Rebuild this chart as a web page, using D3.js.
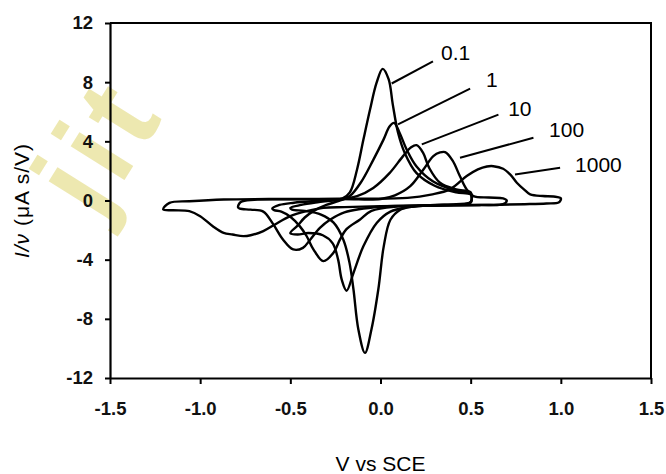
<!DOCTYPE html>
<html>
<head>
<meta charset="utf-8">
<script src="https://cdn.jsdelivr.net/npm/d3@7"></script>
<style>
  body { margin: 0; background: #fff; }
  svg { display: block; font-family: "Liberation Sans", Arial, sans-serif; }
</style>
</head>
<body>
<svg width="666" height="474"></svg>
<script>
// scan rates (V/s), one voltammogram each
const scanRates = ["0.1", "1", "10", "100", "1000"];

// [E (V vs SCE), I/v (uA s/V)], forward sweep then return sweep
const cv01 = [
  [-0.50,-0.50],[-0.44,-0.30],[-0.35,-0.12],[-0.26,0.02],[-0.21,0.15],[-0.17,0.55],[-0.13,2.1],
  [-0.095,4.1],[-0.058,6.15],[-0.022,7.95],[0.012,8.9],[0.045,8.2],[0.068,6.5],[0.097,4.6],
  [0.135,3.2],[0.2,1.85],[0.3,1.0],[0.42,0.55],[0.5,0.4],
  [0.5,-0.15],[0.42,-0.28],[0.3,-0.32],[0.17,-0.42],[0.11,-0.62],[0.055,-1.3],[0.018,-3.1],
  [-0.012,-6.0],[-0.05,-8.7],[-0.086,-10.3],[-0.123,-8.7],[-0.15,-6.0],[-0.172,-4.2],
  [-0.206,-2.65],[-0.26,-1.5],[-0.33,-0.95],[-0.42,-0.7],[-0.49,-0.62]
];
const cv1 = [
  [-0.50,-2.2],[-0.46,-1.7],[-0.42,-1.15],[-0.37,-0.7],[-0.3,-0.3],[-0.23,-0.02],[-0.17,0.3],
  [-0.11,1.2],[-0.04,2.75],[0.016,4.1],[0.05,5.0],[0.075,5.25],[0.105,4.6],[0.145,3.45],
  [0.2,2.3],[0.29,1.3],[0.42,0.65],[0.5,0.45],
  [0.5,-0.1],[0.42,-0.25],[0.3,-0.3],[0.15,-0.45],[0.055,-0.75],[-0.02,-1.5],[-0.095,-3.1],
  [-0.15,-4.9],[-0.188,-6.1],[-0.215,-5.35],[-0.235,-4.0],[-0.265,-2.9],[-0.32,-2.35],
  [-0.4,-2.2],[-0.46,-2.3]
];
const cv10 = [
  [-0.60,-0.55],[-0.56,-0.3],[-0.48,-0.15],[-0.38,-0.05],[-0.25,0.03],[-0.13,0.3],[-0.04,0.85],
  [0.05,1.85],[0.125,3.0],[0.17,3.6],[0.2,3.74],[0.235,3.25],[0.27,2.2],[0.33,1.2],[0.42,0.75],
  [0.5,0.55],
  [0.5,-0.1],[0.42,-0.27],[0.3,-0.32],[0.1,-0.4],[-0.05,-0.7],[-0.115,-1.3],[-0.19,-1.95],
  [-0.225,-2.65],[-0.262,-3.55],[-0.317,-4.1],[-0.372,-3.3],[-0.41,-2.4],[-0.447,-1.75],
  [-0.5,-1.1],[-0.55,-0.75],[-0.59,-0.65]
];
const cv100 = [
  [-0.79,-0.45],[-0.775,-0.1],[-0.7,0.05],[-0.5,0.08],[-0.2,0.1],[0.0,0.1],[0.08,0.35],
  [0.165,0.97],[0.238,2.1],[0.293,3.0],[0.33,3.25],[0.358,3.27],[0.4,2.7],[0.44,1.65],
  [0.478,0.75],[0.515,0.3],[0.6,0.2],[0.68,0.15],[0.70,0.0],
  [0.68,-0.25],[0.55,-0.3],[0.3,-0.35],[0.0,-0.42],[-0.2,-0.8],[-0.28,-1.3],[-0.336,-1.85],
  [-0.39,-2.65],[-0.43,-3.2],[-0.484,-3.31],[-0.54,-2.65],[-0.595,-1.6],[-0.65,-0.75],
  [-0.72,-0.62],[-0.78,-0.55]
];
const cv1000 = [
  [-1.205,-0.6],[-1.17,-0.16],[-1.06,-0.05],[-0.87,0.07],[-0.5,0.1],[-0.1,0.12],[0.15,0.18],
  [0.28,0.4],[0.385,0.75],[0.478,1.65],[0.54,2.1],[0.59,2.3],[0.626,2.32],[0.68,2.15],
  [0.72,1.75],[0.756,1.2],[0.8,0.7],[0.83,0.42],[0.9,0.3],[0.96,0.27],[1.0,0.15],
  [0.99,-0.12],[0.92,-0.2],[0.8,-0.25],[0.6,-0.3],[0.3,-0.33],[0.0,-0.38],[-0.2,-0.45],
  [-0.317,-0.5],[-0.41,-0.72],[-0.5,-1.06],[-0.585,-1.62],[-0.65,-2.07],[-0.72,-2.35],
  [-0.761,-2.41],[-0.82,-2.3],[-0.87,-2.19],[-0.93,-1.74],[-1.0,-1.06],[-1.06,-0.72],[-1.15,-0.66]
];
const curves = [cv01, cv1, cv10, cv100, cv1000];

const xTicks = [-1.5, -1.0, -0.5, 0.0, 0.5, 1.0, 1.5];
const yTicks = [12, 8, 4, 0, -4, -8, -12];

// leader lines for the rate labels: curve end -> label end, in data units
const leaderFrom = [[0.062,7.91],[0.097,5.14],[0.229,3.79],[0.441,2.89],[0.746,1.76]];
const leaderTo   = [[0.291,9.40],[0.497,7.57],[0.654,5.81],[0.848,4.24],[0.996,2.21]];
const labelAt    = [[0.336,9.53],[0.585,7.64],[0.708,5.68],[0.935,4.26],[1.079,1.96]];

const margin = {top: 23, right: 15, bottom: 96, left: 110};
const width = 666 - margin.left - margin.right,
      height = 474 - margin.top - margin.bottom;

const svg = d3.select("svg");

// faint watermark in the corner
svg.append("text")
  .attr("transform", "translate(98,222) rotate(-58)")
  .attr("font-size", "120px")
  .attr("font-weight", "bold")
  .attr("letter-spacing", "8px")
  .attr("fill", "#ebe4a3")
  .attr("opacity", 0.85)
  .text("jit");

const g = svg.append("g")
  .attr("transform", `translate(${margin.left}, ${margin.top})`);

const x = d3.scaleLinear().domain([-1.5, 1.5]).range([0, width]);
const y = d3.scaleLinear().domain([-12, 12]).range([height, 0]);

// frame top + right
g.append("path")
  .attr("d", `M0,0H${width}V${height}`)
  .attr("fill", "none")
  .attr("stroke", "#000")
  .attr("stroke-width", 2);

const xAxis = g.append("g")
  .attr("transform", `translate(0, ${height})`)
  .call(d3.axisBottom(x).tickValues(xTicks).tickSize(6).tickSizeOuter(0).tickFormat(d => d.toFixed(1)));
const yAxis = g.append("g")
  .call(d3.axisLeft(y).tickValues(yTicks).tickSize(5).tickSizeOuter(0).tickFormat(d => String(d)));

[xAxis, yAxis].forEach(a => {
  a.select(".domain").attr("stroke-width", 2.2);
  a.selectAll(".tick line").attr("stroke-width", 2);
  a.selectAll("text")
    .attr("font-family", "'Liberation Sans', Arial, sans-serif")
    .attr("font-size", "18.5px")
    .attr("font-weight", "bold")
    .attr("fill", "#111");
});
xAxis.selectAll("text").attr("dy", "1.5em");
yAxis.selectAll("text").attr("x", -17);

// axis titles
svg.append("text")
  .attr("x", margin.left + x(0))
  .attr("y", 471)
  .attr("text-anchor", "middle")
  .attr("font-size", "21px")
  .text("V vs SCE");

const yt = svg.append("text")
  .attr("transform", `translate(29, ${margin.top + y(0)}) rotate(-90)`)
  .attr("text-anchor", "middle")
  .attr("font-size", "21px")
  .attr("letter-spacing", "1px");
yt.append("tspan").attr("font-style", "italic").text("I/ν");
yt.append("tspan").text(" (μA s/V)");

// voltammograms
const line = d3.line()
  .x(d => x(d[0]))
  .y(d => y(d[1]))
  .curve(d3.curveCatmullRomClosed.alpha(0.5));

g.selectAll(".cv")
  .data(curves)
  .enter().append("path")
  .attr("class", "cv")
  .attr("d", line)
  .attr("fill", "none")
  .attr("stroke", "#000")
  .attr("stroke-width", 2.4)
  .attr("stroke-linejoin", "round");

// rate labels with leaders
g.selectAll(".leader")
  .data(scanRates)
  .enter().append("line")
  .attr("class", "leader")
  .attr("x1", (d, i) => x(leaderFrom[i][0]))
  .attr("y1", (d, i) => y(leaderFrom[i][1]))
  .attr("x2", (d, i) => x(leaderTo[i][0]))
  .attr("y2", (d, i) => y(leaderTo[i][1]))
  .attr("stroke", "#000")
  .attr("stroke-width", 2);

g.selectAll(".rate")
  .data(scanRates)
  .enter().append("text")
  .attr("class", "rate")
  .attr("x", (d, i) => x(labelAt[i][0]))
  .attr("y", (d, i) => y(labelAt[i][1]))
  .attr("font-size", "21px")
  .text(d => d);
</script>
</body>
</html>
